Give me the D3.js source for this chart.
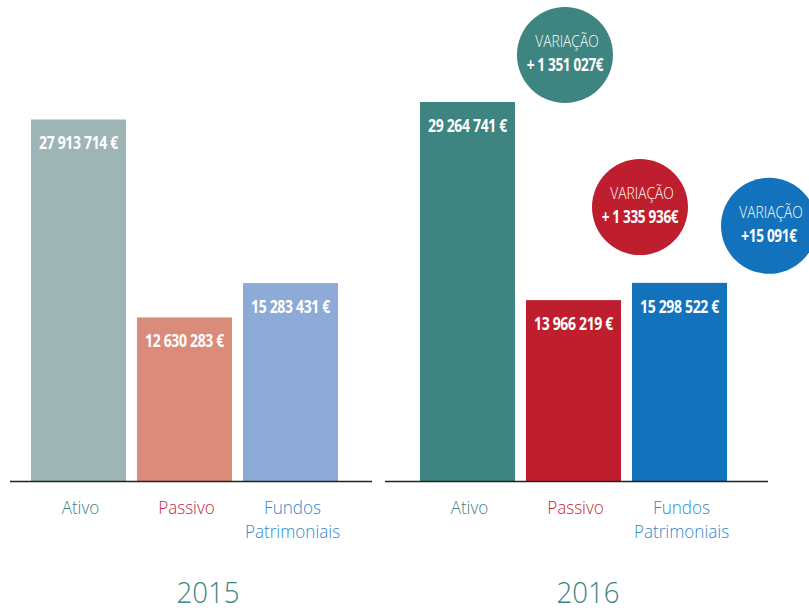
<!DOCTYPE html>
<html>
<head>
<meta charset="utf-8">
<script src="https://cdn.jsdelivr.net/npm/d3@7"></script>
<style>
  body { margin: 0; background: #fff; }
  svg { display: block; }
  .val { font-family: "Open Sans", sans-serif; font-weight: bold; fill: #fff; }
  .cat { font-family: "Open Sans", sans-serif; font-weight: 300; }
</style>
</head>
<body>
<div id="chart"></div>
<script>
var categories = ["Ativo", "Passivo", "Fundos Patrimoniais"];
var years = ["2015", "2016"];
var values2015 = [27913714, 12630283, 15283431];
var values2016 = [29264741, 13966219, 15298522];
var variations = [1351027, 1335936, 15091];

var colors2015 = ["#9db5b4", "#db8b7a", "#8eaad6"];
var colors2016 = ["#3e8480", "#be1e2d", "#1272bb"];
var catColors = ["#3e8480", "#c4283a", "#3089cd"];

var width = 809, height = 611;
var baseY = 481;
var squeeze = 0.8;

var locale = d3.formatLocale({ decimal: ",", thousands: " ", grouping: [3], currency: ["", "€"] });
var fmt = locale.format(",d");

var svg = d3.select("#chart").append("svg")
  .attr("width", width)
  .attr("height", height);

var y = d3.scaleLinear()
  .domain([0, 37140000])
  .range([baseY, 0]);

var panels = [
  { year: years[0], values: values2015, colors: colors2015, range: [31, 338], line: [10, 372], yearX: 208 },
  { year: years[1], values: values2016, colors: colors2016, range: [420, 727], line: [385, 768], yearX: 588 }
];

var tr = function(x, y, s){ return "translate(" + x + "," + y + ") scale(" + s + ",1)"; };

panels.forEach(function(p, pi){
  var x = d3.scaleBand()
    .domain(categories)
    .range(p.range)
    .paddingInner(0.104)
    .paddingOuter(0);

  var g = svg.append("g");

  g.selectAll("rect")
    .data(p.values)
    .enter()
    .append("rect")
    .attr("x", function(d, i){ return x(categories[i]); })
    .attr("y", function(d){ return y(d); })
    .attr("width", x.bandwidth())
    .attr("height", function(d){ return baseY - y(d); })
    .attr("fill", function(d, i){ return p.colors[i]; });

  g.selectAll("text.val")
    .data(p.values)
    .enter()
    .append("text")
    .attr("class", "val")
    .attr("transform", function(d, i){ return tr(x(categories[i]) + x.bandwidth() / 2, y(d) + 30, squeeze); })
    .attr("text-anchor", "middle")
    .attr("font-size", 17.5)
    .attr("letter-spacing", -0.4)
    .text(function(d){ return fmt(d) + " €"; });

  g.append("line")
    .attr("x1", p.line[0]).attr("x2", p.line[1])
    .attr("y1", baseY + 0.5).attr("y2", baseY + 0.5)
    .attr("stroke", "#222")
    .attr("stroke-width", 1.5);

  var cats = g.selectAll("text.cat")
    .data(categories)
    .enter()
    .append("text")
    .attr("class", "cat")
    .attr("transform", function(d){ return tr(x(d) + x.bandwidth() / 2 + 2, 514, 0.9); })
    .attr("text-anchor", "middle")
    .attr("font-size", 19)
    .attr("fill", function(d, i){ return catColors[i]; });

  cats.each(function(d){
    var t = d3.select(this);
    d.split(" ").forEach(function(w, wi){
      t.append("tspan")
        .attr("x", 0)
        .attr("dy", wi === 0 ? 0 : 24)
        .text(w);
    });
  });

  g.append("text")
    .attr("class", "cat")
    .attr("transform", tr(p.yearX, 603, 0.92))
    .attr("text-anchor", "middle")
    .attr("font-size", 30)
    .attr("font-weight", 400)
    .attr("fill", "#3e8480")
    .text(p.year);

  // variation bubbles, only on 2016
  if (pi === 1) {
    var offsets = [[50, -47], [19, -93], [42, -57]];
    var bub = g.selectAll("g.bub")
      .data(variations)
      .enter()
      .append("g")
      .attr("class", "bub")
      .attr("transform", function(d, i){
        var bx = x(categories[i]) + x.bandwidth() + offsets[i][0];
        var by = y(p.values[i]) + offsets[i][1];
        return "translate(" + bx + "," + by + ")";
      });
    bub.append("circle")
      .attr("r", 48)
      .attr("fill", function(d, i){ return p.colors[i]; });
    bub.append("text")
      .attr("class", "cat")
      .attr("transform", tr(2, -8, 0.86))
      .attr("text-anchor", "middle")
      .attr("font-size", 16)
      .attr("fill", "#fff")
      .text("VARIAÇÃO");
    bub.append("text")
      .attr("class", "val")
      .attr("transform", tr(0, 16, squeeze))
      .attr("text-anchor", "middle")
      .attr("font-size", 17)
      .attr("letter-spacing", -0.4)
      .text(function(d, i){ return (i === 2 ? "+" : "+ ") + fmt(d) + "€"; });
  }
});
</script>
</body>
</html>
